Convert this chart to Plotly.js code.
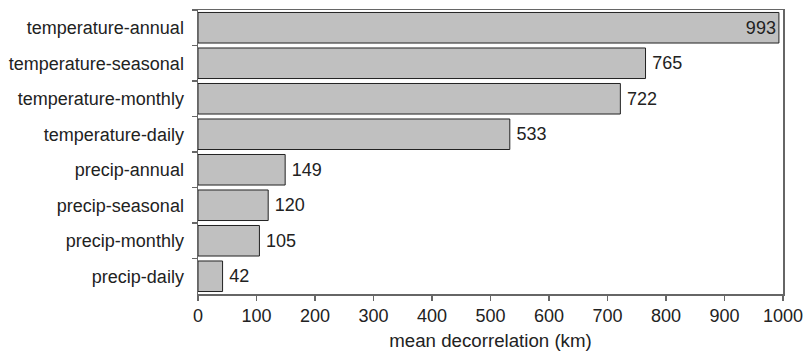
<!DOCTYPE html>
<html><head><meta charset="utf-8">
<script src="https://cdn.plot.ly/plotly-3.0.1.min.js"></script>
<style>html,body{margin:0;padding:0;background:#fff}</style>
</head><body>
<div id="chart" style="width:806px;height:353px"></div>
<script>
const categories = ["temperature-annual","temperature-seasonal","temperature-monthly","temperature-daily","precip-annual","precip-seasonal","precip-monthly","precip-daily"];
const values = [993,765,722,533,149,120,105,42];
const labelPositions = values.map(v => v > 900 ? "inside" : "outside");

const trace = {
  type: "bar", orientation: "h",
  x: values, y: categories,
  text: values.map((v, i) => labelPositions[i] === "outside" ? "\u2009" + v : String(v)),
  textposition: labelPositions,
  insidetextanchor: "end",
  textfont: {family: "Liberation Sans, Arial, sans-serif", size: 18, color: "#222"},
  insidetextfont: {color: "#222", size: 18},
  outsidetextfont: {color: "#222", size: 18},
  cliponaxis: false,
  marker: {color: "#c0c0c0", line: {color: "#222", width: 1}},
  width: 0.86,
  hoverinfo: "none"
};

const layout = {
  width: 806, height: 353,
  margin: {l: 198, r: 23, t: 10, b: 59},
  paper_bgcolor: "#fff", plot_bgcolor: "#fff",
  font: {family: "Liberation Sans, Arial, sans-serif", size: 18, color: "#222"},
  showlegend: false,
  xaxis: {
    range: [0, 1000], dtick: 100, tick0: 0,
    showgrid: false, zeroline: false,
    showline: true, mirror: true, linecolor: "#666", linewidth: 1.5,
    ticks: "outside", ticklen: 5, tickcolor: "#666", tickwidth: 1.5,
    tickfont: {size: 18},
    title: {text: "mean decorrelation (km)", font: {size: 18.7}, standoff: 9}
  },
  yaxis: {
    type: "category", autorange: "reversed",
    showgrid: false, zeroline: false,
    showline: true, mirror: true, linecolor: "#666", linewidth: 1.5,
    ticks: "outside", tickson: "boundaries", ticklen: 5, tickcolor: "#666", tickwidth: 1.5,
    tickfont: {size: 18}, ticklabelstandoff: 9
  }
};

Plotly.newPlot("chart", [trace], layout, {staticPlot: true, displayModeBar: false});
</script>
</body></html>
